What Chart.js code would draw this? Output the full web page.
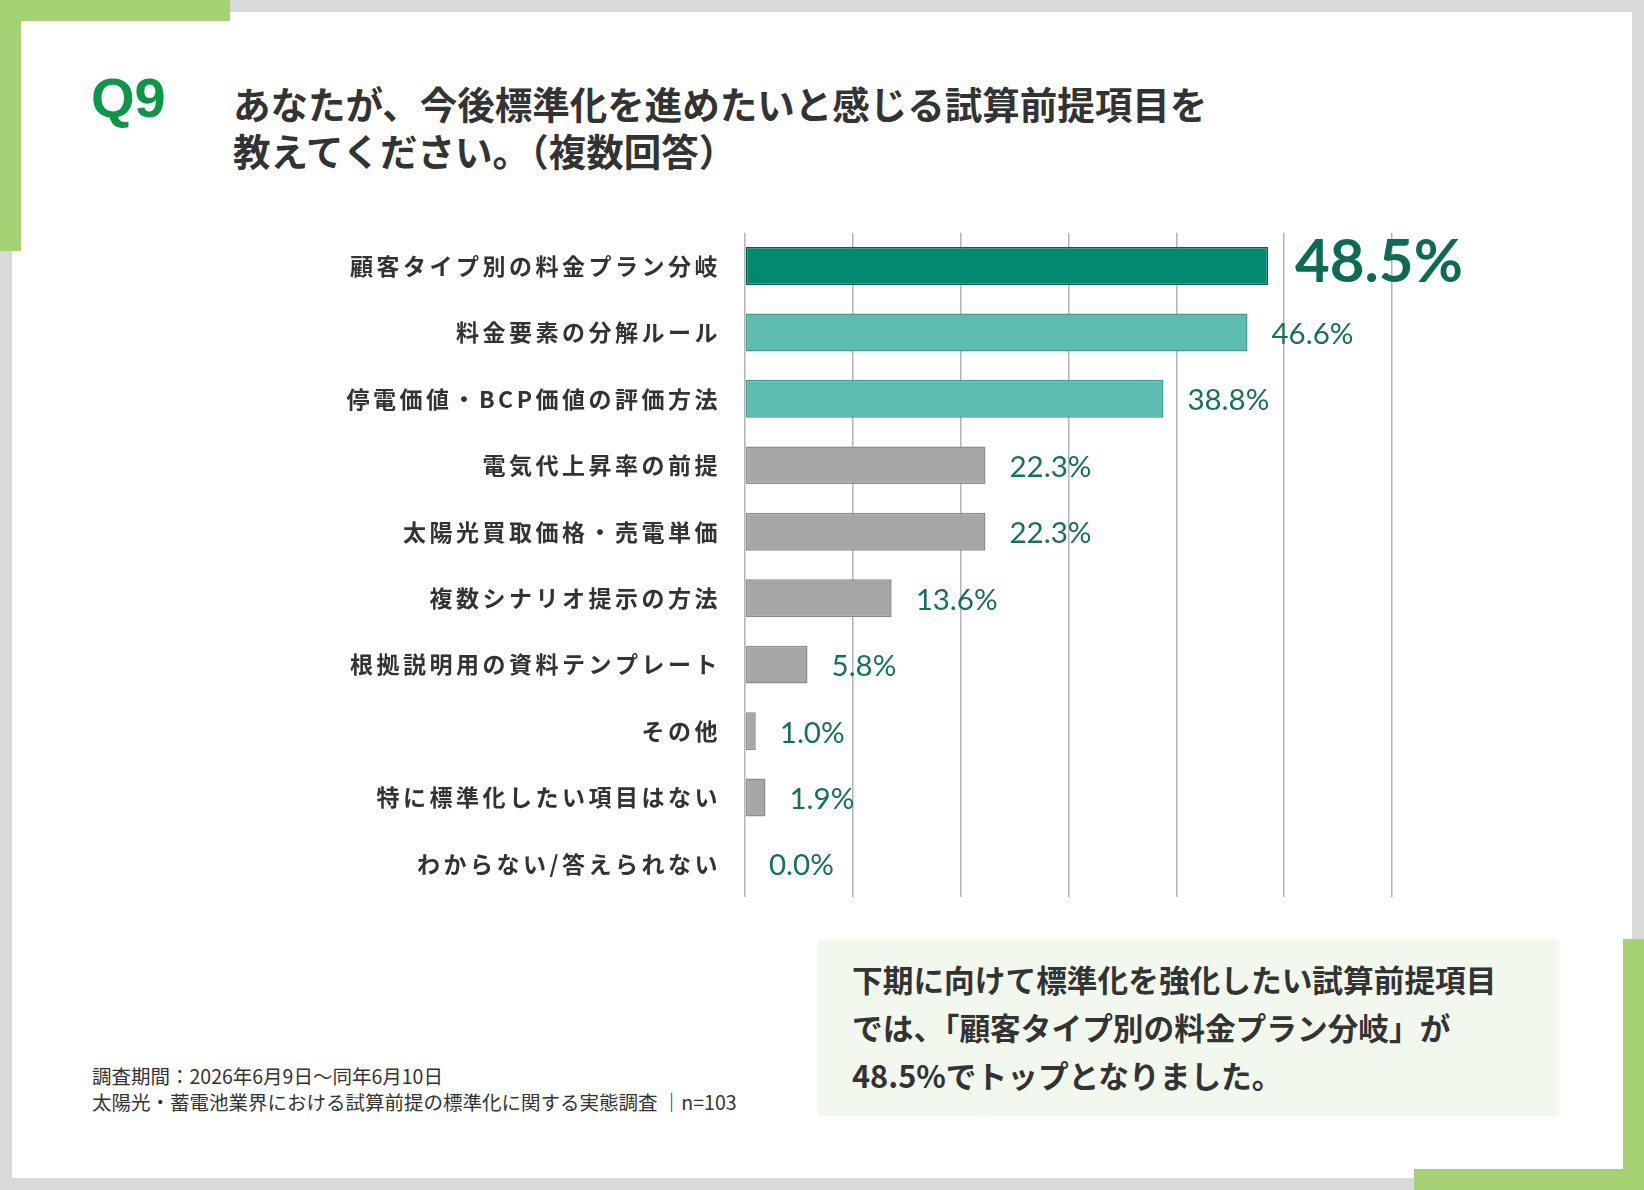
<!DOCTYPE html>
<html lang="ja">
<head>
<meta charset="utf-8">
<script src="https://cdn.jsdelivr.net/npm/chart.js@4"></script>
<style>
  html, body { margin: 0; padding: 0; }
  body { width: 1644px; height: 1190px; background: #d9d9d9; position: relative; overflow: hidden;
         font-family: "Noto Sans CJK JP", "Noto Sans", sans-serif; color: #333; }
  .panel { position: absolute; left: 12px; top: 12px; width: 1620px; height: 1166px; background: #fff; }
  .g { position: absolute; background: #a5d274; }
  .q { position: absolute; left: 91px; top: 70px; font-family: "Liberation Sans", Arial, sans-serif;
       font-weight: 700; font-size: 56px; color: #0d9648; line-height: 1; }
  .title { position: absolute; left: 233px; top: 79px; font-weight: 700; font-size: 37.5px; line-height: 47px; color: #333; }
  .note { position: absolute; left: 92px; top: 1063px; font-size: 19.5px; line-height: 26px; color: #333; }
  .box { position: absolute; left: 818px; top: 940px; width: 741px; height: 176px; background: #f3f8ee; }
  .box p { margin: 0; position: absolute; left: 34px; top: 15px; font-weight: 700; font-size: 30.7px; line-height: 48px; color: #333; }
  .wrap { position: absolute; left: 300px; top: 203px; width: 1250px; height: 724px; }
</style>
</head>
<body>
<div class="panel"></div>
<div class="g" style="left:0;top:0;width:230px;height:21px"></div>
<div class="g" style="left:0;top:0;width:21px;height:251px"></div>
<div class="g" style="left:1623px;top:939px;width:21px;height:251px"></div>
<div class="g" style="left:1414px;top:1169px;width:230px;height:21px"></div>

<div class="q">Q9</div>
<div class="title">あなたが、今後標準化を進めたいと感じる試算前提項目を<br>教えてください。（複数回答）</div>

<div class="wrap"><canvas id="graphQ9"></canvas></div>

<div class="box"><p>下期に向けて標準化を強化したい試算前提項目<br>では、「顧客タイプ別の料金プラン分岐」が<br>48.5%でトップとなりました。</p></div>

<div class="note">調査期間：2026年6月9日～同年6月10日<br>太陽光・蓄電池業界における試算前提の標準化に関する実態調査 ｜n=103</div>

<script>
// 項目と回答率（%）
const categories = [
  '顧客タイプ別の料金プラン分岐',
  '料金要素の分解ルール',
  '停電価値・BCP価値の評価方法',
  '電気代上昇率の前提',
  '太陽光買取価格・売電単価',
  '複数シナリオ提示の方法',
  '根拠説明用の資料テンプレート',
  'その他',
  '特に標準化したい項目はない',
  'わからない/答えられない'
];
const values = [48.5, 46.6, 38.8, 22.3, 22.3, 13.6, 5.8, 1.0, 1.9, 0.0];
const xTicks = [0, 10, 20, 30, 40, 50, 60];

const barColors = values.map((v, i) => i === 0 ? '#008a72' : (i < 3 ? '#5dbcb2' : '#a6a6a6'));
const borderColors = values.map((v, i) => i === 0 ? '#0a5f4c' : (i < 3 ? '#3f9a8f' : '#8c8c8c'));

// ラベルの字間を広げる
const spacingPlugin = {
  id: 'spacing',
  beforeDraw(chart) { chart.ctx.letterSpacing = '3.5px'; },
  beforeDatasetsDraw(chart) { chart.ctx.letterSpacing = '0px'; }
};

// バーの右に値を表示
const valueLabels = {
  id: 'valueLabels',
  afterDatasetsDraw(chart) {
    const ctx = chart.ctx;
    const meta = chart.getDatasetMeta(0);
    ctx.save();
    ctx.textBaseline = 'middle';
    ctx.textAlign = 'left';
    meta.data.forEach((bar, i) => {
      if (i === 0) {
        ctx.font = 'bold 60px Lato, "Open Sans", sans-serif';
        ctx.fillStyle = '#0d6b55';
        ctx.fillText(values[i].toFixed(1) + '%', bar.x + 27, bar.y - 3);
      } else {
        ctx.font = '29.5px Lato, "Open Sans", sans-serif';
        ctx.fillStyle = '#17705d';
        ctx.fillText(values[i].toFixed(1) + '%', bar.x + 24, bar.y + 2);
      }
    });
    ctx.restore();
  }
};

let ctx = document.getElementById('graphQ9').getContext('2d');

let graphQ9 = new Chart(ctx, {
  type: 'bar',
  data: {
    labels: categories,
    datasets: [{
      data: values,
      backgroundColor: barColors,
      borderColor: borderColors,
      borderWidth: 1.5,
      borderSkipped: false,
      barPercentage: 0.57,
      categoryPercentage: 1
    }]
  },
  options: {
    indexAxis: 'y',
    responsive: true,
    maintainAspectRatio: false,
    animation: false,
    layout: { padding: { top: 0, right: 158, bottom: 0, left: 0 } },
    plugins: {
      legend: { display: false },
      tooltip: { enabled: false }
    },
    scales: {
      x: {
        min: 0,
        max: 60,
        afterBuildTicks(axis) { axis.ticks = xTicks.map(v => ({ value: v })); },
        afterFit(axis) { axis.height = 0; },
        ticks: { display: false },
        grid: { color: '#b4b4b4', lineWidth: 1.5, drawTicks: false },
        border: { display: false }
      },
      y: {
        afterFit(axis) { axis.width = 445; },
        grid: { display: false },
        border: { display: false },
        ticks: {
          color: '#333',
          padding: 16,
          font: { family: '"Noto Sans CJK JP", sans-serif', size: 23, weight: 'bold' }
        }
      }
    }
  },
  plugins: [spacingPlugin, valueLabels]
});
</script>
</body>
</html>
